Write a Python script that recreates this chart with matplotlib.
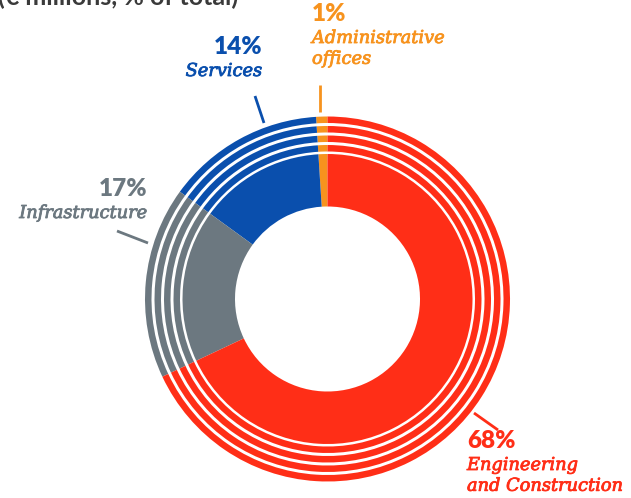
import matplotlib
matplotlib.use('Agg')
import matplotlib.pyplot as plt
import matplotlib.patheffects as pe

# revenue split by business line (%)
segments = ['Administrative\noffices', 'Services', 'Infrastructure',
            'Engineering\nand Construction']
shares = [1, 14, 17, 68]
share_labels = ['1%', '14%', '17%', '68%']
colors = ['#F7931E', '#0A4FAD', '#6C7880', '#FF2E17']

W, H = 631, 498
cx, cy = 327.5, H - 299

fig = plt.figure(figsize=(W / 100, H / 100), dpi=100)
ax = fig.add_axes([0, 0, 1, 1])

# solid inner ring
ax.pie(shares, colors=colors, startangle=90, counterclock=True,
       radius=145, center=(cx, cy),
       wedgeprops=dict(width=52.5, linewidth=0))

# thin outer rings
for r in [154, 163.5, 173, 182.5]:
    ax.pie(shares, colors=colors, startangle=90, counterclock=True,
           radius=r, center=(cx, cy),
           wedgeprops=dict(width=6.5, linewidth=0))

ax.set_xlim(0, W)
ax.set_ylim(0, H)
ax.set_aspect('equal')
ax.axis('off')

# leader lines
leaders = [((320, 85), (320, 112)),
           ((255, 96), (264, 123)),
           ((117, 231), (148, 243)),
           ((474, 413), (498, 430))]
for (p0, p1), c in zip(leaders, colors):
    ax.plot([p0[0], p1[0]], [H - p0[1], H - p1[1]], color=c, lw=2,
            solid_capstyle='butt')

# labels: (x, top y, alignment)
label_pos = [(312, 3, 'left'), (262, 36, 'right'),
             (147, 178, 'right'), (467, 430, 'left')]
for name, pct, c, (x, y, ha) in zip(segments, share_labels, colors, label_pos):
    ax.text(x, H - y, pct, color=c, ha=ha, va='top', fontsize=17.5,
            fontweight='heavy', family='Lato')
    ax.text(x, H - y - 26, name, color=c, ha=ha, va='top', fontsize=12.8,
            style='italic', family='DejaVu Serif',
            linespacing=1.2, multialignment='left',
            path_effects=[pe.withStroke(linewidth=0.6, foreground=c)])

# heading cut at the top edge
ax.text(-2, H - 5, '(€ millions, % of total)', color='#3A3A3A',
        ha='left', va='baseline', fontsize=18, fontweight='bold', family='Lato')

fig.savefig('out.png', dpi=100)
